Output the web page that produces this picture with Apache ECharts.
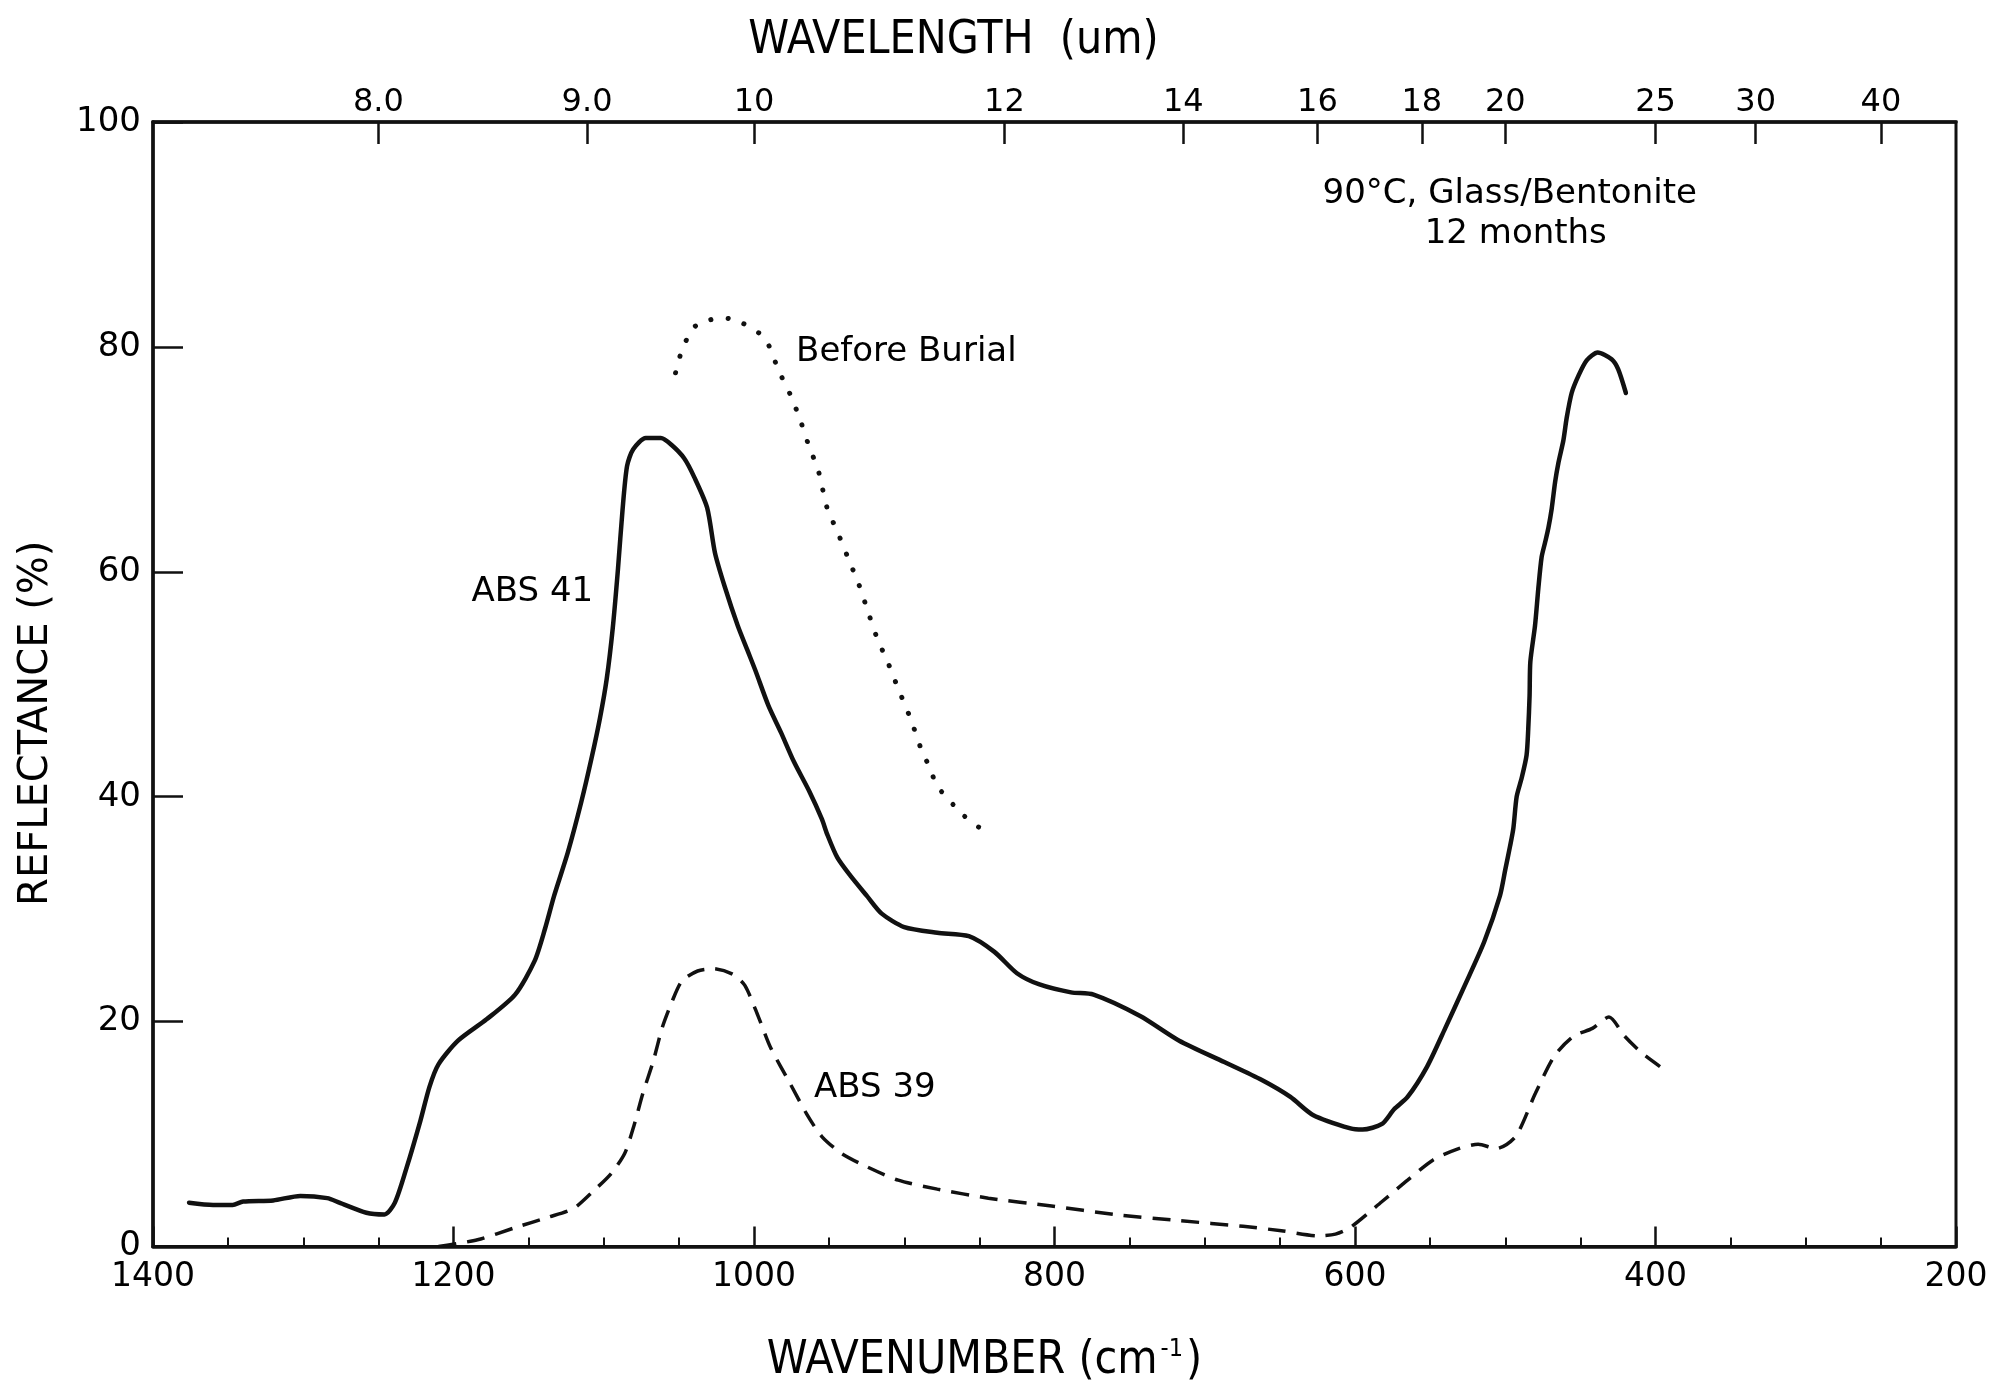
<!DOCTYPE html>
<html><head><meta charset="utf-8">
<script src="https://cdn.jsdelivr.net/npm/echarts@6/dist/echarts.min.js"></script>
<style>html,body{margin:0;padding:0;background:#fff}#c{width:2006px;height:1389px}</style>
</head><body><div id="c"></div>
<script>
// ---- data (wavenumber cm^-1, reflectance %) ----
const abs41Wavenumber = [
  1376,1360,1347,1340,1320,1302,1284,1276,1258,1246,
  1239,1231,1222,1216,1210,1197,1178,1159,1146,1139,
  1133,1124,1115,1108,1102.5,1098,1094,1090.5,1087.5,1084.5,
  1080.4,1072,1062,1055,1046.5,1039.7,1031.2,1026,1019.3,1010.8,
  1004,999,990.4,982,973.4,963.3,954.8,951.4,944.6,936,
  925,915,900,878,857,840,825,810,789,774,
  743,717,687,662,643,628,603,595,582,574,
  565,552,540,527,514,503.5,500,496.8,494.6,492.4,
  489,485.8,484.7,483.8,483.3,480.2,478,475.8,473.5,471.3,
  469.1,466.8,464.6,461.3,459.1,455.8,451.4,445.8,438.5,429.2,
  424.8,419.7];
const abs41Reflectance = [
  3.9,3.7,3.7,4.0,4.1,4.5,4.3,3.9,3.0,2.85,
  3.9,7.1,11.2,14.2,16.2,18.3,20.2,22.4,25.4,28.3,
  31.2,35,39.5,43.5,47,50.5,55,60.3,65.5,69.4,
  70.9,71.9,71.9,71.3,70.1,68.4,65.7,61.7,58.6,55.2,
  52.9,51.2,48.1,45.7,43.1,40.5,38,36.7,34.6,33,
  31.2,29.6,28.4,27.9,27.6,26.2,24.3,23.3,22.6,22.4,
  20.5,18.3,16.4,14.8,13.3,11.7,10.5,10.4,10.9,12.2,
  13.3,16,19.4,23.2,27.1,31.2,33.5,35.6,37.2,40,
  41.7,43.7,46,49,52,55.2,58.5,61.3,62.6,63.9,
  65.6,68,69.7,71.7,73.7,75.9,77.4,78.8,79.5,78.9,
  78,75.9];

const abs39Wavenumber = [
  1210,1184,1158.5,1137,1120,1108,1095,1086,1080,1074,
  1067,1061,1054.5,1048,1037.5,1027,1014,1006,997,989,
  976,965,955,942,925,904,878,844,802,760,
  717,674.5,649,624,613,603,582,565,548,531,
  518,506,493,480,467,454.5,442,431,420.5,409,
  397];
const abs39Reflectance = [
  0,0.6,1.7,2.6,3.4,4.8,6.5,8.3,10.7,13.6,
  16.5,19.5,21.8,23.6,24.5,24.7,24.2,23.2,20.4,17.7,
  14.5,11.8,9.8,8.3,7.1,5.9,5.1,4.3,3.6,2.85,
  2.3,1.8,1.4,0.95,1.1,1.7,4,5.9,7.7,8.7,
  9.1,8.7,9.8,13.6,17,18.7,19.4,20.4,18.7,17.2,
  16];

const beforeBurialWavenumber = [
  1052.2,1048,1041,1036,1029.5,1022.7,1016,1009,1002,995.5,
  990.4,983.6,976,970,964,957,951.4,944.6,937,930,
  923.5,917.5,911.7,904,895.4,889.2,882.5,878.4,870,862,
  849.5];
const beforeBurialReflectance = [
  77.7,79.7,81.6,82.1,82.4,82.6,82.5,82.2,81.7,81.1,
  80.2,77.9,75.8,73.8,71.4,68.9,65.7,63.6,61.1,58.8,
  56.2,53.9,52.2,49.6,46.8,44.4,42.4,41,39.7,38.5,
  37.2];

const wavenumberTickLabels = [1400,1200,1000,800,600,400,200];
const reflectanceTickLabels = [0,20,40,60,80,100];
const wavelengthTickLabels = ['8.0','9.0','10','12','14','16','18','20','25','30','40'];

const annotationTexts = ['Before Burial','ABS 41','ABS 39','90°C, Glass/Bentonite','12 months'];
const annotationWavenumbers = [972,1188,960,497,493];
const annotationReflectances = [79.5,58.2,14.1,93.6,90];
const annotationAligns = ['left','left','left','center','center'];

// ---- build ----
const pairs = (xs, ys) => xs.map((x, i) => [x, ys[i]]);
const wavelengthPositions = wavelengthTickLabels.map(s => 10000 / parseFloat(s));
const wlLookup = {};
wavelengthPositions.forEach((p, i) => { wlLookup[p.toFixed(4)] = wavelengthTickLabels[i]; });

const INK = '#000';
const numFont = 'DejaVu Sans';
const condFont = 'DejaVu Sans Condensed, DejaVu Sans';

const chart = echarts.init(document.getElementById('c'), null, {renderer: 'canvas'});
chart.setOption({
  animation: false,
  backgroundColor: '#fff',
  grid: {left: 153, right: 50, top: 122, bottom: 131, show: true, borderColor: '#111', borderWidth: 3, backgroundColor: 'transparent'},
  xAxis: [
    {
      type: 'value', position: 'bottom', inverse: true,
      min: 200, max: 1400, interval: 200,
      name: '{a|WAVENUMBER (cm}{s|-1}{a|)}',
      nameLocation: 'middle', nameGap: 90,
      nameTextStyle: {
        padding: [0, 140, 0, 0],
        rich: {
          a: {fontFamily: condFont, fontSize: 46, color: INK},
          s: {fontFamily: condFont, fontSize: 25, color: INK, verticalAlign: 'top', padding: [0, 3, 24, 3]}
        }
      },
      axisLine: {show: true, lineStyle: {color: '#111', width: 3.5}},
      axisTick: {show: true, inside: true, length: 20, lineStyle: {color: '#111', width: 2.5}},
      minorTick: {show: true, splitNumber: 4, length: 9, lineStyle: {color: '#111', width: 2}},
      splitLine: {show: false},
      axisLabel: {
        margin: 14, color: INK, fontFamily: numFont, fontSize: 33,
        customValues: wavenumberTickLabels,
        formatter: v => String(v)
      }
    },
    {
      type: 'value', position: 'top', inverse: true,
      min: 200, max: 1400,
      name: 'WAVELENGTH  (um)',
      nameLocation: 'middle', nameGap: 58,
      nameTextStyle: {fontFamily: condFont, fontSize: 46, color: INK, padding: [0, 202, 0, 0]},
      axisLine: {show: true, lineStyle: {color: '#111', width: 3.5}},
      axisTick: {show: true, inside: true, length: 22, lineStyle: {color: '#111', width: 2.5}, customValues: wavelengthPositions},
      splitLine: {show: false},
      axisLabel: {
        margin: 3, color: INK, fontFamily: numFont, fontSize: 32,
        customValues: wavelengthPositions,
        formatter: v => wlLookup[Number(v).toFixed(4)] || ''
      }
    }
  ],
  yAxis: [{
    type: 'value', min: 0, max: 100, interval: 20,
    name: 'REFLECTANCE (%)',
    nameLocation: 'middle', nameGap: 96,
    nameTextStyle: {fontFamily: 'DejaVu Sans', fontSize: 40, color: INK, padding: [0, 78, 0, 0]},
    axisLine: {show: true, lineStyle: {color: '#111', width: 3.5}},
    axisTick: {show: true, inside: true, length: 30, lineStyle: {color: '#111', width: 2.5}},
    splitLine: {show: false},
    axisLabel: {
      margin: 12, color: INK, fontFamily: numFont, fontSize: 34,
      customValues: reflectanceTickLabels
    }
  }],
  series: [
    {
      name: 'ABS 41', type: 'line', xAxisIndex: 0, showSymbol: false, smooth: 0.25,
      data: pairs(abs41Wavenumber, abs41Reflectance),
      lineStyle: {color: '#111', width: 4.5, cap: 'round', join: 'round'}
    },
    {
      name: 'ABS 39', type: 'line', xAxisIndex: 0, showSymbol: false, smooth: 0.25,
      data: pairs(abs39Wavenumber, abs39Reflectance),
      lineStyle: {color: '#111', width: 3.5, type: [18, 11]}
    },
    {
      name: 'Before Burial', type: 'line', xAxisIndex: 0, showSymbol: false, smooth: 0.25,
      data: pairs(beforeBurialWavenumber, beforeBurialReflectance),
      lineStyle: {color: '#111', width: 5, type: [0.1, 17], cap: 'round'}
    },
    {
      name: 'labels', type: 'scatter', xAxisIndex: 0, symbolSize: 0, silent: true,
      itemStyle: {opacity: 1},
      data: annotationTexts.map((t, i) => ({
        value: [annotationWavenumbers[i], annotationReflectances[i]],
        label: {formatter: t, align: annotationAligns[i]}
      })),
      label: {show: true, position: 'inside', color: INK, opacity: 1, fontFamily: 'DejaVu Sans', fontSize: 34, verticalAlign: 'middle'}
    }
  ]
});
</script>
</body></html>
